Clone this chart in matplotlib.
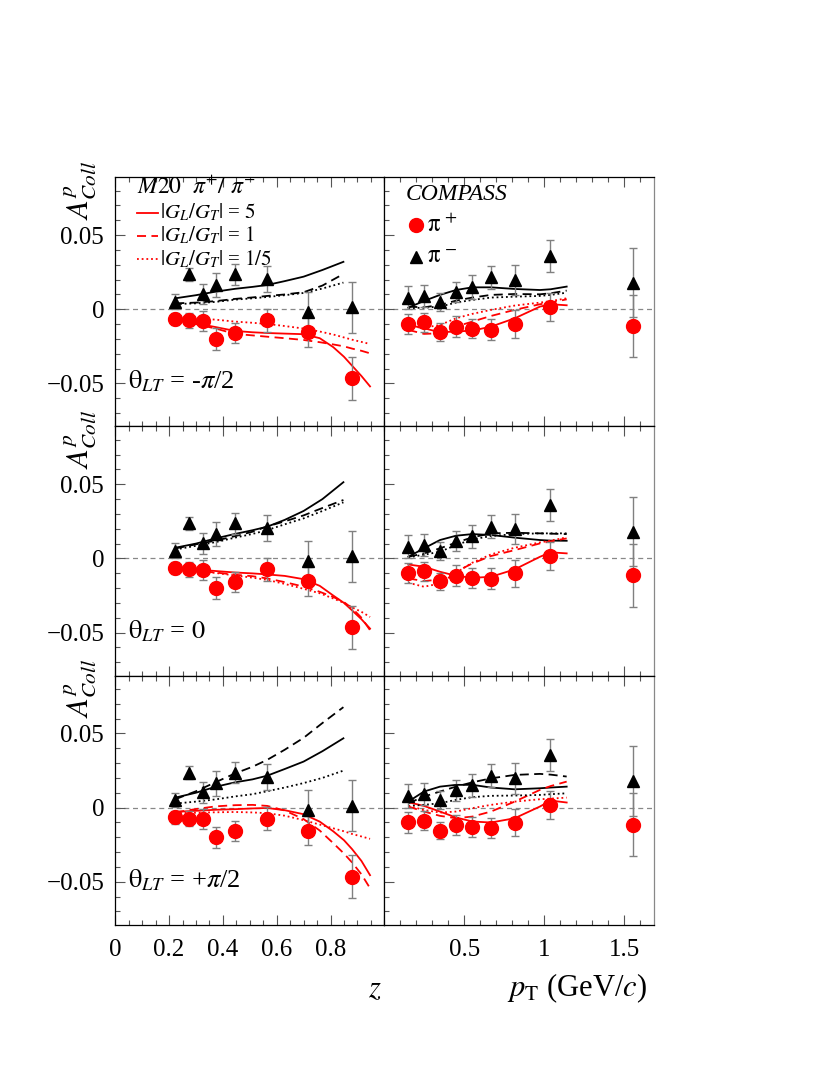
import matplotlib
matplotlib.use('Agg')
import matplotlib.pyplot as plt
from matplotlib.ticker import MultipleLocator, FixedLocator, FixedFormatter
from matplotlib.lines import Line2D

plt.rcParams['font.family'] = ['Liberation Serif', 'DejaVu Serif']
plt.rcParams['mathtext.fontset'] = 'stix'

# ---------------- COMPASS data (z binning) ----------------
z_bins = [0.223, 0.274, 0.325, 0.373, 0.445, 0.565, 0.717, 0.880]
z_pim = [0.0051, 0.0236, 0.0103, 0.0164, 0.0236, 0.0204, -0.0016, 0.0013]
z_pim_err = [0.0050, 0.0045, 0.0070, 0.0083, 0.0072, 0.0088, 0.0133, 0.0170]
z_pip = [-0.0065, -0.0074, -0.0079, -0.0200, -0.0160, -0.0074, -0.0155, -0.0465]
z_pip_err = [0.0043, 0.0050, 0.0067, 0.0072, 0.0067, 0.0078, 0.0100, 0.0146]

# ---------------- COMPASS data (pT binning) ----------------
pt_bins = [0.150, 0.248, 0.348, 0.448, 0.550, 0.667, 0.815, 1.038, 1.554]
pt_pim = [0.0078, 0.0090, 0.0051, 0.0117, 0.0150, 0.0215, 0.0197, 0.0357, 0.0180]
pt_pim_err = [0.0078, 0.0075, 0.0060, 0.0070, 0.0078, 0.0078, 0.0103, 0.0108, 0.0234]
pt_pip = [-0.0099, -0.0088, -0.0155, -0.0117, -0.0130, -0.0137, -0.0101, 0.0015, -0.0115]
pt_pip_err = [0.0070, 0.0064, 0.0060, 0.0070, 0.0067, 0.0069, 0.0093, 0.0095, 0.0210]

# ---------------- model curves: grids ----------------
z_grid_pim = [0.223, 0.30, 0.373, 0.445, 0.51, 0.565, 0.63, 0.70, 0.77, 0.848]
z_grid_pip = [0.223, 0.30, 0.373, 0.445, 0.51, 0.565, 0.63, 0.70, 0.76, 0.81,
              0.85, 0.88, 0.915, 0.947]
pt_grid = [0.15, 0.248, 0.348, 0.448, 0.55, 0.667, 0.815, 0.973, 1.04, 1.14]

# theta_LT = -pi/2, z dependence  (ratio 5 / 1 / 1/5)
zm_pim_5 = [0.0074, 0.0095, 0.0119, 0.0138, 0.0151, 0.0164, 0.0190, 0.0220, 0.0265, 0.0320]
zm_pim_1 = [0.0040, 0.0045, 0.0055, 0.0070, 0.0080, 0.0090, 0.0100, 0.0115, 0.0160, 0.0238]
zm_pim_15 = [0.0035, 0.0040, 0.0050, 0.0065, 0.0074, 0.0083, 0.0095, 0.0110, 0.0140, 0.0180]
zm_pip_5 = [-0.0065, -0.0095, -0.0120, -0.0146, -0.0155, -0.0160, -0.0164, -0.0168, -0.0195,
            -0.0255, -0.0320, -0.0380, -0.0450, -0.0520]
zm_pip_1 = [-0.0070, -0.0100, -0.0130, -0.0166, -0.0176, -0.0185, -0.0195, -0.0207, -0.0222,
            -0.0237, -0.0250, -0.0265, -0.0280, -0.0297]
zm_pip_15 = [-0.0050, -0.0060, -0.0070, -0.0083, -0.0091, -0.0099, -0.0113, -0.0130, -0.0150,
             -0.0170, -0.0190, -0.0205, -0.0220, -0.0234]

# theta_LT = 0, z dependence
z0_pim_5 = [0.0072, 0.0100, 0.0135, 0.0165, 0.0190, 0.0214, 0.0260, 0.0320, 0.0400, 0.0514]
z0_pim_1 = [0.0067, 0.0095, 0.0120, 0.0150, 0.0180, 0.0216, 0.0250, 0.0290, 0.0340, 0.0394]
z0_pim_15 = [0.0060, 0.0085, 0.0110, 0.0140, 0.0165, 0.0191, 0.0230, 0.0270, 0.0320, 0.0378]
z0_pip_5 = [-0.0068, -0.0075, -0.0085, -0.0095, -0.0101, -0.0108, -0.0118, -0.0140, -0.0185,
            -0.0250, -0.0300, -0.0350, -0.0410, -0.0473]
z0_pip_1 = [-0.0075, -0.0085, -0.0095, -0.0110, -0.0120, -0.0135, -0.0160, -0.0190, -0.0225,
            -0.0260, -0.0295, -0.0335, -0.0400, -0.0484]
z0_pip_15 = [-0.0075, -0.0087, -0.0098, -0.0115, -0.0130, -0.0145, -0.0172, -0.0205, -0.0235,
             -0.0270, -0.0300, -0.0330, -0.0360, -0.0395]

# theta_LT = +pi/2, z dependence
zp_pim_5 = [0.0067, 0.0100, 0.0140, 0.0170, 0.0190, 0.0215, 0.0260, 0.0310, 0.0380, 0.0467]
zp_pim_1 = [0.0056, 0.0110, 0.0171, 0.0230, 0.0275, 0.0322, 0.0390, 0.0470, 0.0570, 0.0677]
zp_pim_15 = [0.0027, 0.0040, 0.0055, 0.0075, 0.0090, 0.0110, 0.0135, 0.0165, 0.0200, 0.0249]
zp_pip_5 = [-0.0029, -0.0022, -0.0015, -0.0011, -0.0006, -0.0003, -0.0018, -0.0045, -0.0095,
            -0.0160, -0.0220, -0.0280, -0.0360, -0.0456]
zp_pip_1 = [-0.0033, -0.0010, 0.0008, 0.0016, 0.0018, 0.0011, -0.0020, -0.0078, -0.0155,
            -0.0240, -0.0310, -0.0370, -0.0450, -0.0544]
zp_pip_15 = [-0.0038, -0.0035, -0.0032, -0.0030, -0.0033, -0.0038, -0.0055, -0.0085, -0.0115,
             -0.0140, -0.0160, -0.0178, -0.0195, -0.0211]

# theta_LT = -pi/2, pT dependence
pm_pim_5 = [0.0011, 0.0056, 0.0097, 0.0130, 0.0148, 0.0148, 0.0137, 0.0130, 0.0135, 0.0153]
pm_pim_1 = [0.0018, 0.0013, 0.0029, 0.0058, 0.0079, 0.0097, 0.0103, 0.0101, 0.0108, 0.0126]
pm_pim_15 = [0.0007, 0.0011, 0.0018, 0.0045, 0.0063, 0.0079, 0.0085, 0.0090, 0.0097, 0.0112]
pm_pip_5 = [-0.0106, -0.0128, -0.0155, -0.0150, -0.0144, -0.0117, -0.0061, 0.0018, 0.0034, 0.0027]
pm_pip_1 = [-0.0139, -0.0166, -0.0162, -0.0117, -0.0083, -0.0045, -0.0004, 0.0034, 0.0045, 0.0067]
pm_pip_15 = [-0.0117, -0.0124, -0.0106, -0.0061, -0.0031, -0.0004, 0.0025, 0.0045, 0.0055, 0.0074]

# theta_LT = 0, pT dependence
p0_pim_5 = [0.0011, 0.0068, 0.0124, 0.0153, 0.0164, 0.0158, 0.0140, 0.0124, 0.0120, 0.0119]
p0_pim_1 = [0.0011, 0.0034, 0.0068, 0.0106, 0.0142, 0.0169, 0.0173, 0.0169, 0.0167, 0.0164]
p0_pim_15 = [0.0007, 0.0025, 0.0045, 0.0090, 0.0128, 0.0151, 0.0164, 0.0169, 0.0169, 0.0169]
p0_pip_5 = [-0.0041, -0.0056, -0.0090, -0.0117, -0.0131, -0.0124, -0.0074, 0.0011, 0.0041, 0.0034]
p0_pip_1 = [-0.0135, -0.0153, -0.0142, -0.0090, -0.0034, 0.0016, 0.0056, 0.0101, 0.0115, 0.0135]
p0_pip_15 = [-0.0164, -0.0191, -0.0169, -0.0097, -0.0029, 0.0027, 0.0072, 0.0108, 0.0120, 0.0142]

# theta_LT = +pi/2, pT dependence
pp_pim_5 = [0.0040, 0.0108, 0.0141, 0.0153, 0.0153, 0.0135, 0.0123, 0.0130, 0.0135, 0.0141]
pp_pim_1 = [0.0029, 0.0074, 0.0108, 0.0141, 0.0170, 0.0197, 0.0220, 0.0227, 0.0222, 0.0209]
pp_pim_15 = [0.0011, 0.0018, 0.0029, 0.0052, 0.0070, 0.0079, 0.0081, 0.0085, 0.0090, 0.0096]
pp_pip_5 = [0.0036, 0.0011, -0.0027, -0.0067, -0.0094, -0.0101, -0.0072, 0.0007, 0.0047, 0.0034]
pp_pip_1 = [0.0007, -0.0027, -0.0056, -0.0072, -0.0061, -0.0027, 0.0040, 0.0119, 0.0145, 0.0175]
pp_pip_15 = [0.0011, -0.0016, -0.0034, -0.0027, -0.0004, 0.0018, 0.0040, 0.0056, 0.0060, 0.0067]

theta_labels = [r'$\mathrm{\theta}_{LT}$ = -$\pi$/2', r'$\mathrm{\theta}_{LT}$ = $\it{0}$',
                r'$\mathrm{\theta}_{LT}$ = +$\pi$/2']
legend_ratios = ['5', '1', '1/5']

z_curves = [
    (zm_pim_5, zm_pim_1, zm_pim_15, zm_pip_5, zm_pip_1, zm_pip_15),
    (z0_pim_5, z0_pim_1, z0_pim_15, z0_pip_5, z0_pip_1, z0_pip_15),
    (zp_pim_5, zp_pim_1, zp_pim_15, zp_pip_5, zp_pip_1, zp_pip_15),
]
pt_curves = [
    (pm_pim_5, pm_pim_1, pm_pim_15, pm_pip_5, pm_pip_1, pm_pip_15),
    (p0_pim_5, p0_pim_1, p0_pim_15, p0_pip_5, p0_pip_1, p0_pip_15),
    (pp_pim_5, pp_pim_1, pp_pim_15, pp_pip_5, pp_pip_1, pp_pip_15),
]

W, H = 830, 1075
fig = plt.figure(figsize=(W / 100, H / 100), dpi=100)

x_left, x_mid, x_right = 115.3, 384.3, 653.7
y_top, y_bot = 177.3, 924.7
ph = (y_bot - y_top) / 3.0
YLIM = (-0.079, 0.089)

RED = '#ff0000'
styles = ['-', (0, (5, 3)), (0, (1, 1.6))]
ERRC = '#808080'


def style_axes(ax, left, bottom):
    ax.set_ylim(*YLIM)
    ax.yaxis.set_major_locator(FixedLocator([-0.05, 0.0, 0.05]))
    ax.yaxis.set_minor_locator(MultipleLocator(0.01))
    ax.tick_params(which='both', direction='in', top=True, bottom=True,
                   left=True, right=False, color='#555555', width=0.8)
    ax.tick_params(which='major', length=7)
    ax.tick_params(which='minor', length=3.5)
    if left:
        ax.yaxis.set_major_formatter(FixedFormatter(['\u22120.05', '0', '0.05']))
        ax.tick_params(axis='y', labelsize=18, pad=8)
    else:
        ax.tick_params(axis='y', labelleft=False)
    if not bottom:
        ax.tick_params(axis='x', labelbottom=False)
    else:
        ax.tick_params(axis='x', labelsize=18, pad=10)
    for s in ax.spines.values():
        s.set_linewidth(0.9)
    ax.spines['right'].set_color('#888888')
    ax.axhline(0, color='#888888', lw=0.9, ls=(0, (4, 3)), zorder=1)


for row in range(3):
    top = y_top + row * ph
    fb = 1 - (top + ph) / H
    fh = ph / H
    axL = fig.add_axes([x_left / W, fb, (x_mid - x_left) / W, fh])
    axR = fig.add_axes([x_mid / W, fb, (x_right - x_mid) / W, fh])

    # left panel (z)
    axL.set_xlim(0, 1.0)
    axL.xaxis.set_major_locator(FixedLocator([0, 0.2, 0.4, 0.6, 0.8, 1.0]))
    axL.xaxis.set_major_formatter(FixedFormatter(['0', '0.2', '0.4', '0.6', '0.8', '']))
    axL.xaxis.set_minor_locator(MultipleLocator(0.05))
    style_axes(axL, True, row == 2)

    c = z_curves[row]
    for i in range(3):
        axL.plot(z_grid_pim, c[i], color='black', ls=styles[i], lw=1.3, zorder=3)
        axL.plot(z_grid_pip, c[3 + i], color=RED, ls=styles[i], lw=1.3, zorder=3)
    axL.errorbar(z_bins, z_pim, yerr=z_pim_err, fmt='^', color='black', ms=9,
                 ecolor=ERRC, elinewidth=1.0, capsize=3, zorder=4)
    axL.errorbar(z_bins, z_pip, yerr=z_pip_err, fmt='o', color=RED, ms=10,
                 ecolor=ERRC, elinewidth=1.0, capsize=3, zorder=4)
    axL.text(0.047, 0.18, theta_labels[row], transform=axL.transAxes,
             fontsize=19, ha='left', va='center')

    # right panel (pT)
    axR.set_xlim(0, 1.684)
    axR.xaxis.set_major_locator(FixedLocator([0.5, 1.0, 1.5]))
    axR.xaxis.set_major_formatter(FixedFormatter(['0.5', '1', '1.5']))
    axR.xaxis.set_minor_locator(MultipleLocator(0.1))
    style_axes(axR, False, row == 2)

    c = pt_curves[row]
    for i in range(3):
        axR.plot(pt_grid, c[i], color='black', ls=styles[i], lw=1.3, zorder=3)
        axR.plot(pt_grid, c[3 + i], color=RED, ls=styles[i], lw=1.3, zorder=3)
    axR.errorbar(pt_bins, pt_pim, yerr=pt_pim_err, fmt='^', color='black', ms=9,
                 ecolor=ERRC, elinewidth=1.0, capsize=3, zorder=4)
    axR.errorbar(pt_bins, pt_pip, yerr=pt_pip_err, fmt='o', color=RED, ms=10,
                 ecolor=ERRC, elinewidth=1.0, capsize=3, zorder=4)

    # y label (kept above the 0.05 tick label)
    fig.text(80 / W, 1 - (top + 13) / H, r'$A^{p}_{Coll}$', rotation=90,
             fontsize=22, ha='center', va='center')

    if row == 0:
        # model legend
        axL.text(0.081, 0.958, r'$M20\ \ \pi^{+}/\ \pi^{-}$', transform=axL.transAxes,
                 fontsize=17, ha='left', va='center')
        leg_y = [0.858, 0.765, 0.672]
        for i in range(3):
            axL.add_line(Line2D([0.081, 0.159], [leg_y[i], leg_y[i]], color=RED,
                                ls=styles[i], lw=1.3, transform=axL.transAxes))
            axL.text(0.166, leg_y[i],
                     r'$|G_L/G_T|$ = $\it{' + legend_ratios[i] + '}$',
                     transform=axL.transAxes, fontsize=15, ha='left', va='center')
        # data legend
        axR.text(0.081, 0.929, 'COMPASS', style='italic', transform=axR.transAxes,
                 fontsize=17, ha='left', va='center')
        axR.plot([0.118], [0.808], 'o', color=RED, ms=10, transform=axR.transAxes)
        axR.text(0.158, 0.808, r'$\mathrm{\pi}^{\,+}$', transform=axR.transAxes,
                 fontsize=18, ha='left', va='center')
        axR.plot([0.118], [0.680], '^', color='black', ms=9, transform=axR.transAxes)
        axR.text(0.158, 0.680, r'$\mathrm{\pi}^{\,-}$', transform=axR.transAxes,
                 fontsize=18, ha='left', va='center')

fig.text(375 / W, 1 - 990 / H, r'$z$', fontsize=22, ha='center', va='center')
fig.text(577 / W, 1 - 988 / H, r'$p_{\rm T}$ (GeV/$c$)', fontsize=22,
         ha='center', va='center')

fig.savefig('out.png', dpi=100)
